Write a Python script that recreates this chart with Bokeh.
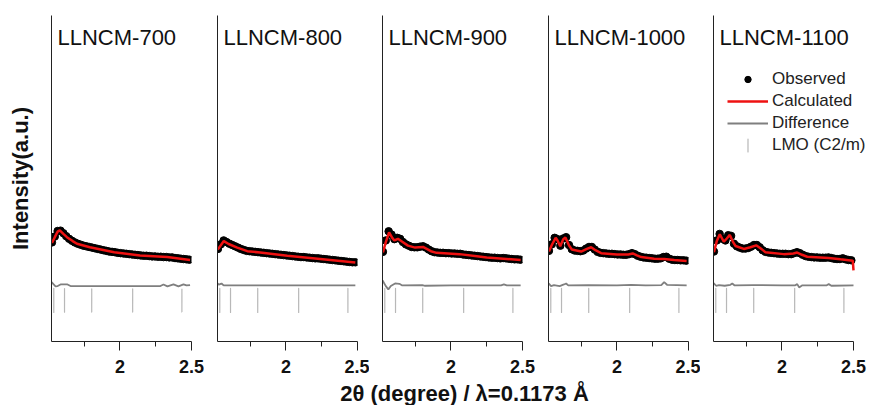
import math
from bokeh.plotting import figure
from bokeh.models import Range1d, FixedTicker, Label, Legend, LegendItem
from bokeh.layouts import row, column
from bokeh.embed import file_html
from bokeh.resources import INLINE

# ---------------- data ----------------
samples = ["LLNCM-700", "LLNCM-800", "LLNCM-900", "LLNCM-1000", "LLNCM-1100"]

two_theta = [1.525, 1.545, 1.565, 1.585, 1.605, 1.625, 1.645, 1.665, 1.685, 1.705,
             1.725, 1.745, 1.765, 1.785, 1.805, 1.825, 1.845, 1.865, 1.885, 1.905,
             1.925, 1.945, 1.965, 1.985, 2.005, 2.025, 2.045, 2.065, 2.085, 2.105,
             2.125, 2.145, 2.165, 2.185, 2.205, 2.225, 2.245, 2.265, 2.285, 2.305,
             2.325, 2.345, 2.365, 2.385, 2.405, 2.425, 2.445, 2.465, 2.485]

obs_700 = [30.4, 32.2, 33.9, 34.0, 33.2, 32.3, 31.5, 30.9, 30.4, 30.0,
           29.7, 29.4, 29.2, 29.0, 28.8, 28.6, 28.4, 28.2, 28.0, 27.8,
           27.6, 27.5, 27.4, 27.2, 27.1, 27.0, 26.9, 26.8, 26.7, 26.6,
           26.5, 26.4, 26.3, 26.3, 26.2, 26.1, 26.1, 26.0, 26.0, 25.9,
           25.9, 25.8, 25.8, 25.6, 25.5, 25.4, 25.3, 25.2, 25.1]
obs_800 = [28.4, 29.8, 31.0, 30.5, 30.0, 29.6, 29.2, 28.8, 28.4, 28.1,
           27.8, 27.7, 27.6, 27.5, 27.4, 27.3, 27.2, 27.1, 27.0, 26.9,
           26.8, 26.7, 26.6, 26.5, 26.4, 26.3, 26.2, 26.1, 26.0, 25.9,
           25.9, 25.8, 25.7, 25.6, 25.5, 25.5, 25.4, 25.3, 25.2, 25.1,
           25.0, 24.9, 24.8, 24.7, 24.6, 24.5, 24.4, 24.3, 24.3]
obs_900 = [27.5, 31.0, 33.8, 32.8, 31.4, 31.8, 31.5, 30.5, 29.8, 29.4,
           29.0, 28.9, 28.9, 29.1, 29.2, 28.8, 28.2, 27.7, 27.4, 27.3,
           27.2, 27.2, 27.1, 27.1, 27.0, 27.0, 26.9, 26.9, 26.7, 26.6,
           26.5, 26.4, 26.3, 26.2, 26.1, 26.0, 25.9, 25.8, 25.7, 25.7,
           25.6, 25.5, 25.6, 25.5, 25.4, 25.3, 25.2, 25.2, 25.1]
obs_1000 = [27.8, 29.8, 31.8, 31.4, 29.4, 31.6, 32.0, 29.6, 28.3, 27.9,
            27.8, 27.7, 27.9, 28.5, 29.0, 29.0, 28.2, 27.5, 27.2, 27.1,
            27.0, 26.9, 26.9, 26.8, 26.7, 26.7, 26.6, 26.6, 26.8, 27.1,
            26.8, 26.3, 26.0, 25.8, 25.7, 25.6, 25.5, 25.4, 25.4, 25.5,
            25.9, 26.0, 25.4, 25.1, 25.0, 25.0, 24.9, 24.9, 24.8]
obs_1100 = [27.6, 31.0, 33.0, 31.5, 31.0, 32.6, 32.4, 30.0, 29.2, 28.8,
            28.5, 28.5, 28.7, 29.1, 29.6, 29.6, 28.9, 28.0, 27.5, 27.3,
            27.2, 27.1, 27.0, 26.9, 26.9, 26.9, 26.8, 26.8, 27.1, 27.4,
            27.1, 26.6, 26.2, 26.0, 25.9, 25.8, 25.8, 25.7, 25.7, 25.7,
            25.8, 25.6, 25.4, 25.3, 25.3, 25.5, 25.2, 25.0, 24.9]

calc_700_x = [1.525, 1.545, 1.565, 1.580, 1.605, 1.630, 1.670, 1.700, 1.790, 1.960, 2.140, 2.330, 2.490]
calc_700_y = [30.2, 32.0, 33.7, 34.1, 33.0, 32.0, 30.8, 30.0, 28.9, 27.4, 26.4, 25.9, 25.0]
calc_800_x = [1.524, 1.566, 1.600, 1.660, 1.730, 1.820, 2.010, 2.240, 2.485]
calc_800_y = [28.2, 30.8, 29.9, 28.8, 27.7, 27.3, 26.3, 25.3, 24.2]
calc_900_x = [1.525, 1.545, 1.568, 1.590, 1.605, 1.630, 1.660, 1.700, 1.750, 1.805, 1.860, 1.900, 2.060, 2.250, 2.487]
calc_900_y = [27.3, 30.5, 33.5, 31.8, 31.0, 31.5, 30.6, 29.4, 28.8, 29.0, 27.7, 27.2, 26.8, 25.8, 25.0]
calc_1000_x = [1.525, 1.545, 1.572, 1.585, 1.604, 1.625, 1.640, 1.665, 1.685, 1.750, 1.790, 1.820,
               1.850, 1.890, 2.000, 2.080, 2.110, 2.140, 2.170, 2.260, 2.330, 2.400, 2.487]
calc_1000_y = [27.6, 29.6, 31.8, 31.0, 29.2, 31.4, 31.9, 29.5, 28.2, 27.6, 28.4, 28.9,
               28.0, 27.1, 26.7, 26.7, 27.0, 26.4, 25.9, 25.4, 25.3, 25.0, 24.7]
calc_1100_x = [1.525, 1.545, 1.566, 1.594, 1.615, 1.636, 1.660, 1.676, 1.734, 1.780, 1.820, 1.850,
               1.885, 2.013, 2.080, 2.107, 2.140, 2.177, 2.327, 2.409, 2.495, 2.500]
calc_1100_y = [27.4, 30.8, 32.9, 30.6, 31.6, 32.7, 30.4, 29.3, 28.4, 28.9, 29.5, 28.6,
               27.4, 26.8, 27.0, 27.3, 26.6, 26.0, 25.6, 25.2, 24.8, 21.8]

diff_700_x = [1.523, 1.540, 1.550, 1.565, 1.585, 1.634, 1.655, 2.283, 2.304, 2.332, 2.374, 2.409, 2.444, 2.465, 2.490]
diff_700_y = [18.2, 17.4, 16.9, 17.0, 17.5, 17.5, 17.0, 17.0, 17.5, 16.9, 17.5, 16.9, 17.5, 17.2, 17.3]
diff_800_x = [1.523, 1.530, 1.540, 1.550, 1.565, 1.800, 2.200, 2.485]
diff_800_y = [17.9, 17.4, 17.6, 17.8, 17.2, 17.2, 17.2, 17.2]
diff_900_x = [1.523, 1.545, 1.563, 1.580, 1.610, 1.640, 1.660, 1.800, 1.820, 2.000, 2.350, 2.370, 2.390, 2.487]
diff_900_y = [18.7, 17.0, 16.0, 17.0, 17.8, 17.7, 17.2, 17.3, 17.1, 17.2, 17.2, 17.5, 17.2, 17.2]
diff_1000_x = [1.523, 1.540, 1.560, 1.600, 1.630, 1.645, 1.660, 1.800, 2.000, 2.100, 2.200, 2.310, 2.330, 2.350, 2.487]
diff_1000_y = [17.8, 17.0, 17.3, 17.0, 17.5, 17.8, 17.2, 17.3, 17.2, 17.4, 17.2, 17.3, 18.2, 17.4, 17.2]
diff_1100_x = [1.523, 1.540, 1.560, 1.600, 1.640, 1.653, 1.670, 1.800, 2.000, 2.090, 2.107, 2.120, 2.140,
               2.310, 2.327, 2.345, 2.500]
diff_1100_y = [17.9, 17.1, 17.3, 17.1, 17.4, 17.8, 17.2, 17.3, 17.2, 17.2, 17.6, 16.6, 17.2,
               17.2, 17.6, 17.1, 17.2]

lmo_c2m_positions = [1.538, 1.613, 1.803, 2.089, 2.433]

x_major_ticks = [2, 2.5]
x_minor_ticks = [1.75, 2.25]
x_label = "2θ (degree) / λ=0.1173 Å"
y_label = "Intensity(a.u.)"

observed = [obs_700, obs_800, obs_900, obs_1000, obs_1100]
calc_x = [calc_700_x, calc_800_x, calc_900_x, calc_1000_x, calc_1100_x]
calc_y = [calc_700_y, calc_800_y, calc_900_y, calc_1000_y, calc_1100_y]
diff_x = [diff_700_x, diff_800_x, diff_900_x, diff_1000_x, diff_1100_x]
diff_y = [diff_700_y, diff_800_y, diff_900_y, diff_1000_y, diff_1100_y]

# ---------------- layout / style ----------------
FONT = "Liberation Sans"
ROW_H = 378
X0, X1 = 1.522, 2.5
widths = [204, 165, 166, 165, 172]
border_left = [51, 13, 13, 13, 13]
border_right = [13, 12, 13, 12, 0]
RED = "#ee1111"
GRAY = "#7f7f7f"
TICK_GRAY = "#b8b8b8"
PX_PER_UNIT = 140 / (X1 - X0)

figs = []
for i, name in enumerate(samples):
    frame_w = widths[i] - border_left[i] - border_right[i]
    x_end = X0 + frame_w / PX_PER_UNIT
    p = figure(width=widths[i], height=ROW_H, output_backend="svg", toolbar_location=None,
               x_range=Range1d(X0, x_end), y_range=Range1d(0, 100),
               min_border_left=border_left[i], min_border_right=border_right[i],
               min_border_top=15, min_border_bottom=ROW_H - 341)
    p.outline_line_color = None
    p.grid.visible = False
    p.background_fill_color = "white"
    p.border_fill_color = "white"

    # x axis
    xa = p.xaxis[0]
    xa.bounds = (X0, X1)
    xa.ticker = FixedTicker(ticks=x_major_ticks, minor_ticks=x_minor_ticks)
    xa.major_tick_out = 9
    xa.major_tick_in = 0
    xa.minor_tick_out = 5
    xa.minor_tick_in = 0
    xa.axis_line_color = "#222222"
    xa.major_tick_line_color = "#222222"
    xa.minor_tick_line_color = "#222222"
    xa.major_label_text_font = FONT
    xa.major_label_text_font_style = "bold"
    xa.major_label_text_font_size = "18px"
    xa.major_label_text_color = "#111111"
    xa.major_label_standoff = 9

    # y axis: line only
    ya = p.yaxis[0]
    ya.ticker = FixedTicker(ticks=[])
    ya.major_tick_out = 0
    ya.major_tick_in = 0
    ya.minor_tick_out = 0
    ya.minor_tick_in = 0
    ya.major_label_standoff = 0
    ya.axis_line_color = "#222222"
    if i == 0:
        ya.axis_label = y_label
        ya.axis_label_text_font = FONT
        ya.axis_label_text_font_style = "bold"
        ya.axis_label_text_font_size = "22px"
        ya.axis_label_text_color = "#111111"
        ya.axis_label_standoff = 19

    r_obs = p.scatter(two_theta, observed[i], size=7.5, marker="circle",
                      fill_color="black", line_color="black")
    r_calc = p.line(calc_x[i], calc_y[i], line_color=RED, line_width=2.5)
    r_diff = p.line(diff_x[i], diff_y[i], line_color=GRAY, line_width=1.8)
    r_lmo = p.ellipse(x=lmo_c2m_positions, y=12.6, width=0.0003, height=24,
                      height_units="screen", fill_color=None,
                      line_color=TICK_GRAY, line_width=1.2)

    p.add_layout(Label(x=X0 + 6 / PX_PER_UNIT, y=93.4, text=name, text_font=FONT,
                       text_font_size="22px", text_color="#111111",
                       text_align="left", text_baseline="middle"))

    if i == 4:
        legend = Legend(items=[
            LegendItem(label="Observed", renderers=[r_obs]),
            LegendItem(label="Calculated", renderers=[r_calc]),
            LegendItem(label="Difference", renderers=[r_diff]),
            LegendItem(label="LMO (C2/m)", renderers=[r_lmo]),
        ], location=(14, 186))
        legend.border_line_color = None
        legend.background_fill_alpha = 0
        legend.padding = 0
        legend.margin = 0
        legend.spacing = 2
        legend.glyph_width = 41
        legend.glyph_height = 16
        legend.label_height = 20
        legend.label_standoff = 4
        legend.label_text_font = FONT
        legend.label_text_font_size = "17px"
        legend.label_text_color = "#222222"
        p.add_layout(legend)

    figs.append(p)

# shared x-axis title strip
lab_h = 405 - ROW_H
lab = figure(width=872, height=lab_h, output_backend="svg", toolbar_location=None,
             x_range=Range1d(0, 872), y_range=Range1d(0, lab_h),
             x_axis_type=None, y_axis_type=None,
             min_border=0, min_border_left=0, min_border_right=0,
             min_border_top=0, min_border_bottom=0)
lab.outline_line_color = None
lab.grid.visible = False
lab.add_layout(Label(x=464, y=405 - 393, text=x_label, text_font=FONT,
                     text_font_style="bold", text_font_size="22px",
                     text_color="#111111", text_align="center",
                     text_baseline="middle"))

layout = column(row(*figs, spacing=0), lab, spacing=0)
open("out.html", "w").write(file_html(layout, INLINE))
